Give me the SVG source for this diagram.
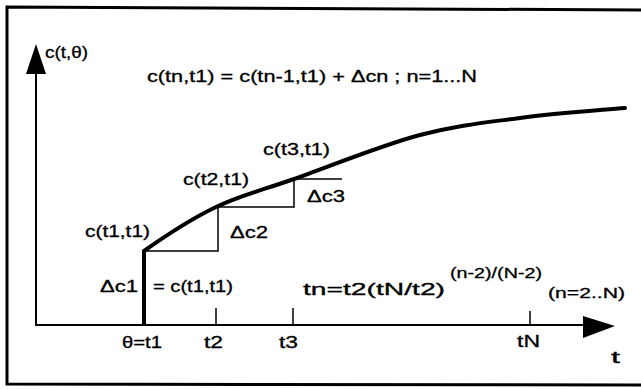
<svg xmlns="http://www.w3.org/2000/svg" width="641" height="389" viewBox="0 0 641 389">
<style>
text{font-family:"Liberation Sans","DejaVu Sans",Arial,sans-serif;fill:#000;font-size:16px;stroke:#000;stroke-width:0.3}
.s{font-size:14px}
.thin{stroke:#000;stroke-width:1.5;fill:none}
.ax{stroke:#000;stroke-width:2;fill:none}
</style>
<rect width="641" height="389" fill="#fff"/>
<g id="frame">
<polyline points="641,10 7,7 7,384 641,385" fill="none" stroke="#000" stroke-width="3"/>
</g>
<g id="connectors">
<line class="ax" x1="36" y1="325" x2="36" y2="70"/>
<polygon points="36,44 26,74 46,74" fill="#000"/>
<line class="ax" x1="35" y1="325" x2="590" y2="325"/>
<polygon points="615,326 583,316 583,338" fill="#000"/>
<line class="thin" x1="216" y1="308" x2="216" y2="325"/>
<line class="thin" x1="293" y1="308" x2="293" y2="325"/>
<line class="thin" x1="530" y1="311" x2="530" y2="325"/>
<line x1="144" y1="326" x2="144" y2="250" stroke="#000" stroke-width="4"/>
<polyline class="thin" points="144,251 218,251 218,207"/>
<polyline class="thin" points="216,207 294,207 294,179 342,179"/>
<path d="M144,251 C168,234 191,219 216,207 C241,195 260,191 294,179 C328,167 382,145 420,135 C458,125 486,122.5 520,118 C554,113.5 590,111 625,108" fill="none" stroke="#000" stroke-width="4" stroke-linecap="round"/>
</g>
<g id="labels">
<text x="45" y="58" font-size="15" textLength="43" lengthAdjust="spacingAndGlyphs">c(t,θ)</text>
<text x="147" y="82" font-size="15" textLength="330" lengthAdjust="spacingAndGlyphs">c(tn,t1) = c(tn-1,t1) + Δcn ; n=1...N</text>
<text x="263" y="155" textLength="67" lengthAdjust="spacingAndGlyphs">c(t3,t1)</text>
<text x="183" y="185" textLength="66" lengthAdjust="spacingAndGlyphs">c(t2,t1)</text>
<text x="85" y="237" textLength="65" lengthAdjust="spacingAndGlyphs">c(t1,t1)</text>
<text x="230" y="238" textLength="38" lengthAdjust="spacingAndGlyphs">Δc2</text>
<text x="307" y="202" textLength="38" lengthAdjust="spacingAndGlyphs">Δc3</text>
<text x="100" y="292" textLength="38" lengthAdjust="spacingAndGlyphs">Δc1</text>
<text x="153" y="292" textLength="80" lengthAdjust="spacingAndGlyphs">= c(t1,t1)</text>
<text x="303" y="295" font-size="18" textLength="142" lengthAdjust="spacingAndGlyphs">tn=t2(tN/t2)</text>
<text class="s" x="450" y="278" textLength="92" lengthAdjust="spacingAndGlyphs">(n-2)/(N-2)</text>
<text class="s" x="548" y="298" textLength="77" lengthAdjust="spacingAndGlyphs">(n=2..N)</text>
<text x="122" y="348" textLength="40" lengthAdjust="spacingAndGlyphs">θ=t1</text>
<text x="204" y="348" textLength="19" lengthAdjust="spacingAndGlyphs">t2</text>
<text x="279" y="348" textLength="19" lengthAdjust="spacingAndGlyphs">t3</text>
<text x="517" y="347" textLength="23" lengthAdjust="spacingAndGlyphs">tN</text>
<text x="611" y="363" textLength="9" lengthAdjust="spacingAndGlyphs">t</text>
</g>
</svg>
